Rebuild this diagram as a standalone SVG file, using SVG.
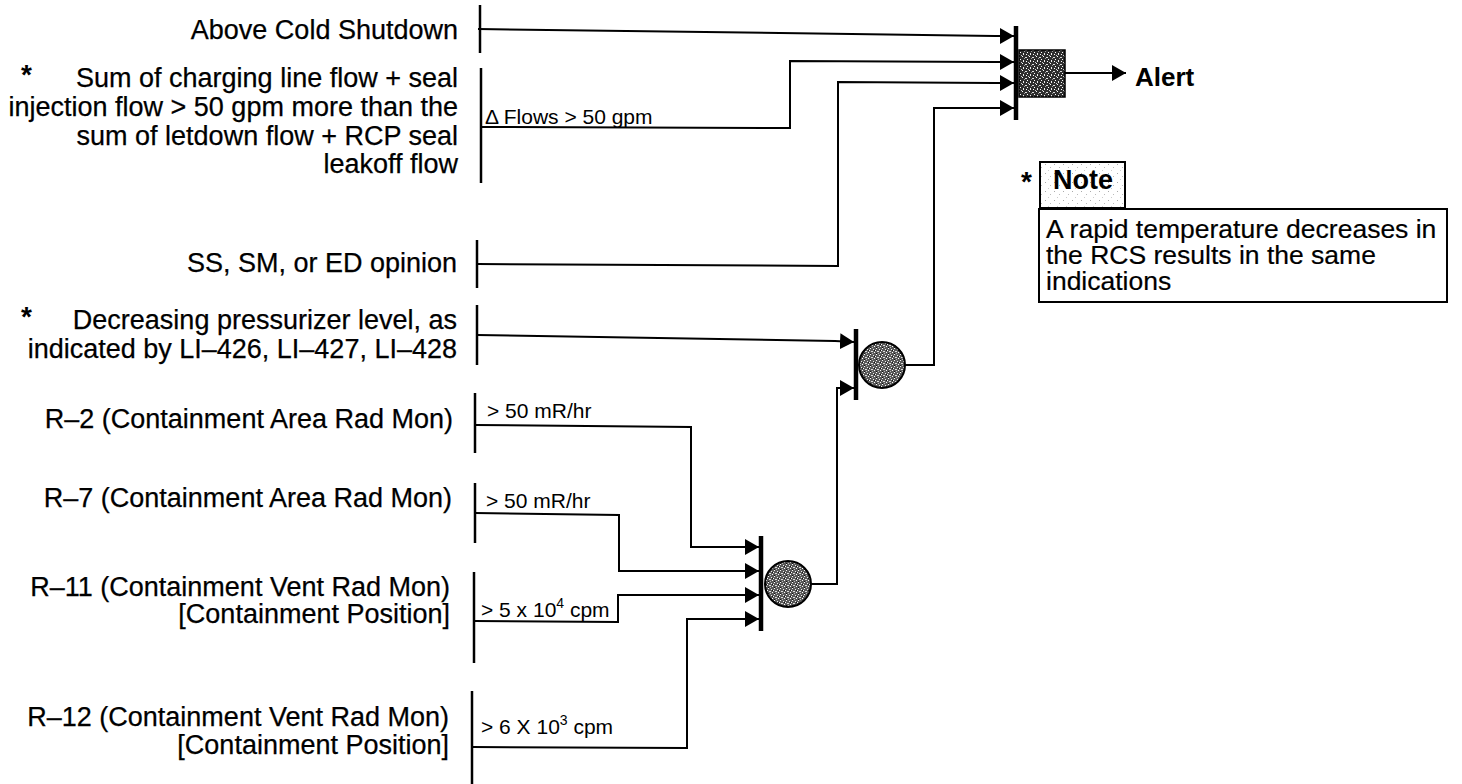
<svg xmlns="http://www.w3.org/2000/svg" width="1462" height="784" viewBox="0 0 1462 784">
<defs>
<style>
.lbl{font-family:"Liberation Sans",Arial,Helvetica,sans-serif;font-size:27px;fill:#000;text-anchor:end;stroke:#000;stroke-width:0.25}
.note{font-family:"Liberation Sans",Arial,Helvetica,sans-serif;font-size:26.5px;fill:#000;stroke:#000;stroke-width:0.2}
.cond{font-family:"Liberation Sans",Arial,Helvetica,sans-serif;font-size:21px;fill:#000}
.bold{font-family:"Liberation Sans",Arial,Helvetica,sans-serif;font-weight:bold;fill:#000}
.bar{stroke:#000;stroke-width:2.5;fill:none}
.gbar{stroke:#000;stroke-width:4.5;fill:none}
.wire{stroke:#000;stroke-width:2;fill:none}
.arr{marker-end:url(#ah)}
</style>
<marker id="ah" markerUnits="userSpaceOnUse" markerWidth="16" markerHeight="16" refX="14" refY="8" orient="auto"><path d="M0,0 L14,8 L0,16 Z" fill="#000"/></marker>
<pattern id="dark" width="7" height="7" patternUnits="userSpaceOnUse">
<rect width="7" height="7" fill="#2e2e2e"/>
<rect x="0" y="0" width="1" height="1" fill="#fff"/><rect x="3" y="1" width="2" height="1" fill="#ddd"/>
<rect x="5" y="3" width="1" height="1" fill="#fff"/><rect x="1" y="4" width="1" height="2" fill="#eee"/>
<rect x="4" y="5" width="1" height="1" fill="#fff"/><rect x="6" y="6" width="1" height="1" fill="#ccc"/>
<rect x="2" y="2" width="1" height="1" fill="#999"/>
</pattern>
<pattern id="mid" width="6" height="6" patternUnits="userSpaceOnUse">
<rect width="6" height="6" fill="#5a5a5a"/>
<rect x="0" y="0" width="1" height="1" fill="#fff"/><rect x="3" y="1" width="1" height="1" fill="#eee"/>
<rect x="5" y="2" width="1" height="1" fill="#fff"/><rect x="1" y="3" width="2" height="1" fill="#ddd"/>
<rect x="4" y="4" width="1" height="1" fill="#fff"/><rect x="2" y="5" width="1" height="1" fill="#bbb"/>
<rect x="0" y="5" width="1" height="1" fill="#111"/><rect x="4" y="2" width="1" height="1" fill="#111"/>
</pattern>
<pattern id="light" width="9" height="9" patternUnits="userSpaceOnUse">
<rect width="9" height="9" fill="#fff"/>
<rect x="1" y="2" width="1" height="1" fill="#aaa"/><rect x="6" y="5" width="1" height="1" fill="#bbb"/>
<rect x="4" y="8" width="1" height="1" fill="#ccc"/>
</pattern>
</defs>
<rect width="1462" height="784" fill="#fff"/>

<g id="node-above-cold-shutdown">
<text class="lbl" x="458" y="39">Above Cold Shutdown</text>
<line class="bar" x1="480" y1="5" x2="480" y2="53"/>
</g>

<g id="node-flows">
<text class="bold" x="21" y="84" font-size="28">*</text>
<text class="lbl" x="458" y="87">Sum of charging line flow + seal</text>
<text class="lbl" x="458" y="116">injection flow &gt; 50 gpm more than the</text>
<text class="lbl" x="458" y="145">sum of letdown flow + RCP seal</text>
<text class="lbl" x="458" y="173">leakoff flow</text>
<line class="bar" x1="481" y1="68" x2="481" y2="183"/>
</g>

<g id="node-opinion">
<text class="lbl" x="457" y="272">SS, SM, or ED opinion</text>
<line class="bar" x1="477" y1="240" x2="477" y2="288"/>
</g>

<g id="node-pressurizer">
<text class="bold" x="21" y="326" font-size="28">*</text>
<text class="lbl" x="457" y="329">Decreasing pressurizer level, as</text>
<text class="lbl" x="457" y="358">indicated by LI–426, LI–427, LI–428</text>
<line class="bar" x1="477" y1="305" x2="477" y2="365"/>
</g>

<g id="node-r2">
<text class="lbl" x="453" y="428">R–2 (Containment Area Rad Mon)</text>
<line class="bar" x1="475" y1="393" x2="475" y2="453"/>
</g>

<g id="node-r7">
<text class="lbl" x="452" y="507">R–7 (Containment Area Rad Mon)</text>
<line class="bar" x1="475" y1="483" x2="475" y2="543"/>
</g>

<g id="node-r11">
<text class="lbl" x="450" y="596">R–11 (Containment Vent Rad Mon)</text>
<text class="lbl" x="450" y="623">[Containment Position]</text>
<line class="bar" x1="474" y1="572" x2="474" y2="663"/>
</g>

<g id="node-r12">
<text class="lbl" x="449" y="726">R–12 (Containment Vent Rad Mon)</text>
<text class="lbl" x="449" y="754">[Containment Position]</text>
<line class="bar" x1="472" y1="691" x2="472" y2="784"/>
</g>

<g id="gate-alert">
<line class="gbar" x1="1016" y1="26" x2="1016" y2="120"/>
<rect x="1019" y="50" width="46" height="47" fill="url(#dark)" stroke="#000" stroke-width="1.5"/>
</g>

<g id="gate-or-upper">
<line class="gbar" x1="856" y1="329" x2="856" y2="400"/>
<circle cx="882" cy="365" r="23" fill="url(#mid)" stroke="#000" stroke-width="2"/>
</g>

<g id="gate-or-lower">
<line class="gbar" x1="761" y1="536" x2="761" y2="631"/>
<circle cx="788" cy="584" r="23" fill="url(#mid)" stroke="#000" stroke-width="2"/>
</g>

<g id="node-alert">
<text class="bold" x="1135" y="86" font-size="26">Alert</text>
</g>

<g id="note">
<text class="bold" x="1021" y="191" font-size="28">*</text>
<rect x="1040" y="162" width="85" height="46" fill="url(#light)" stroke="#000" stroke-width="2"/>
<text class="bold" x="1053" y="189" font-size="27">Note</text>
<rect x="1039" y="209" width="408" height="93" fill="none" stroke="#000" stroke-width="2"/>
<text class="note" x="1046" y="238">A rapid temperature decreases in</text>
<text class="note" x="1046" y="264">the RCS results in the same</text>
<text class="note" x="1046" y="290">indications</text>
</g>

<g id="connectors">
<polyline class="wire arr" points="478,29 995,36 1014,36"/>
<polyline class="wire arr" points="481,127 790,128 790,61 995,62 1014,62"/>
<text class="cond" x="485" y="124">Δ Flows &gt; 50 gpm</text>
<polyline class="wire arr" points="477,264 838,266 838,82 995,83 1014,83"/>
<polyline class="wire arr" points="905,365 934,365 934,108 1014,108"/>
<polyline class="wire arr" points="1065,73 1126,73"/>
<polyline class="wire arr" points="477,335 835,341 854,342"/>
<polyline class="wire arr" points="811,584 837,584 837,388 854,388"/>
<polyline class="wire arr" points="475,425 691,427 691,547 759,547"/>
<text class="cond" x="487" y="418">&gt; 50 mR/hr</text>
<polyline class="wire arr" points="475,513 619,515 619,571 759,571"/>
<text class="cond" x="486" y="508">&gt; 50 mR/hr</text>
<polyline class="wire arr" points="474,621 618,622 618,595 759,595"/>
<text class="cond" x="481" y="617">&gt; 5 x 10<tspan font-size="14" dy="-9">4</tspan><tspan dy="9"> cpm</tspan></text>
<polyline class="wire arr" points="472,747 687,748 687,619 759,619"/>
<text class="cond" x="481" y="734">&gt; 6 X 10<tspan font-size="14" dy="-9">3</tspan><tspan dy="9"> cpm</tspan></text>
</g>
</svg>
